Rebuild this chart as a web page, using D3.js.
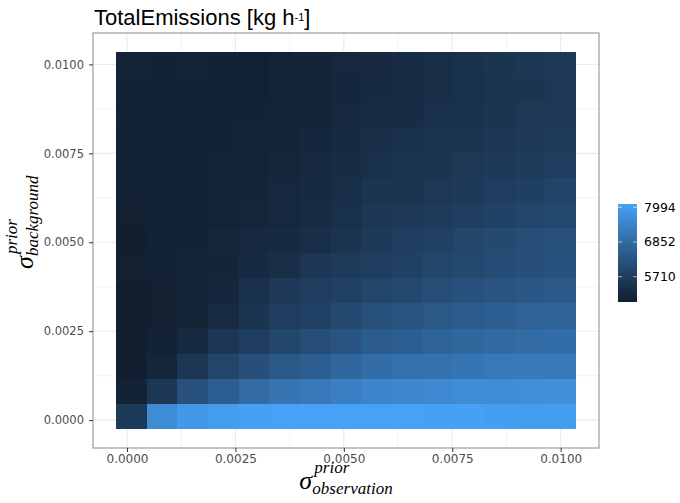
<!DOCTYPE html>
<html>
<head>
<meta charset="utf-8">
<script src="https://cdn.jsdelivr.net/npm/d3@7"></script>
<style>
  body { margin: 0; background: #fff; }
  svg { display: block; }
</style>
</head>
<body>
<div id="chart"></div>
<script>
// grid of prior uncertainties (15 x 15)
var sigmaObs = [0.0001, 0.000807, 0.001514, 0.002221, 0.002929, 0.003636, 0.004343, 0.00505,
                0.005757, 0.006464, 0.007171, 0.007879, 0.008586, 0.009293, 0.01];
var sigmaBg = [0.0001, 0.000807, 0.001514, 0.002221, 0.002929, 0.003636, 0.004343, 0.00505,
               0.005757, 0.006464, 0.007171, 0.007879, 0.008586, 0.009293, 0.01];

// total emissions [kg/h], one row per sigmaBg value (bottom to top), one column per sigmaObs value
var emissions = [
  [5620, 7620, 7910, 8000, 8070, 8100, 8100, 8100, 8100, 8100, 8070, 8070, 8040, 8000, 8000],
  [4980, 5520, 6230, 6550, 6880, 7070, 7200, 7330, 7460, 7520, 7550, 7620, 7650, 7680, 7710],
  [4880, 5070, 5520, 5910, 6170, 6390, 6550, 6750, 6910, 6970, 7040, 7100, 7170, 7200, 7230],
  [4880, 4980, 5200, 5520, 5720, 5940, 6140, 6300, 6490, 6550, 6680, 6750, 6810, 6880, 6910],
  [4880, 4910, 5040, 5230, 5490, 5720, 5850, 6010, 6200, 6300, 6390, 6490, 6550, 6650, 6680],
  [4880, 4910, 5010, 5110, 5360, 5590, 5720, 5810, 5940, 6010, 6140, 6230, 6300, 6360, 6430],
  [4910, 4940, 5010, 5040, 5200, 5330, 5520, 5650, 5720, 5810, 5940, 6010, 6100, 6170, 6230],
  [4880, 4940, 4980, 5070, 5170, 5200, 5330, 5490, 5620, 5750, 5810, 5940, 6040, 6140, 6200],
  [4910, 4940, 4980, 5010, 5070, 5140, 5230, 5360, 5520, 5590, 5650, 5750, 5850, 5940, 6010],
  [4940, 4940, 4940, 5010, 5040, 5140, 5200, 5300, 5430, 5490, 5560, 5620, 5720, 5780, 5880],
  [4940, 4940, 4940, 5010, 5010, 5070, 5170, 5230, 5360, 5430, 5490, 5560, 5620, 5690, 5750],
  [4940, 4940, 4940, 4980, 5010, 5040, 5110, 5200, 5300, 5360, 5430, 5490, 5520, 5590, 5650],
  [4980, 4940, 4940, 4980, 4980, 5010, 5040, 5140, 5230, 5270, 5360, 5400, 5490, 5560, 5590],
  [4980, 4980, 4980, 4940, 4940, 5010, 5040, 5110, 5200, 5230, 5300, 5360, 5430, 5490, 5560],
  [5010, 4980, 5010, 4980, 4940, 5010, 5040, 5140, 5170, 5270, 5330, 5400, 5460, 5520, 5590]
];

var axisTicks = [0, 0.0025, 0.005, 0.0075, 0.01];
var minorTicks = [0.00125, 0.00375, 0.00625, 0.00875];
var legendBreaks = [5710, 6852, 7994];
var fillRange = [4880, 8100];

var width = 680, height = 503,
    panel = {left: 93, right: 599, top: 33, bottom: 448},
    tickFmt = d3.format(".4f");

var cells = [];
emissions.forEach(function(row, j) {
  row.forEach(function(v, i) {
    cells.push({x: sigmaObs[i], y: sigmaBg[j], value: v});
  });
});

// ggplot style: tile extent plus 5% on each side
var tileW = sigmaObs[1] - sigmaObs[0],
    tileH = sigmaBg[1] - sigmaBg[0];
function expand(lo, hi) {
  var d = (hi - lo) * 0.05;
  return [lo - d, hi + d];
}

var x = d3.scaleLinear()
    .domain(expand(d3.min(sigmaObs) - tileW / 2, d3.max(sigmaObs) + tileW / 2))
    .range([panel.left, panel.right]);
var y = d3.scaleLinear()
    .domain(expand(d3.min(sigmaBg) - tileH / 2, d3.max(sigmaBg) + tileH / 2))
    .range([panel.bottom, panel.top]);
var color = d3.scaleLinear()
    .domain(fillRange)
    .range(["#111f30", "#47a1f7"])
    .interpolate(d3.interpolateLab);

var svg = d3.select("#chart").append("svg")
    .attr("width", width)
    .attr("height", height)
    .style("font-family", "'DejaVu Sans', sans-serif");

// grid lines
var grid = svg.append("g");
grid.selectAll(".vminor").data(minorTicks).enter().append("line")
    .attr("x1", function(d) { return x(d); }).attr("x2", function(d) { return x(d); })
    .attr("y1", panel.top).attr("y2", panel.bottom)
    .attr("stroke", "#ebebeb").attr("stroke-width", 0.6);
grid.selectAll(".hminor").data(minorTicks).enter().append("line")
    .attr("y1", function(d) { return y(d); }).attr("y2", function(d) { return y(d); })
    .attr("x1", panel.left).attr("x2", panel.right)
    .attr("stroke", "#ebebeb").attr("stroke-width", 0.6);
grid.selectAll(".vmajor").data(axisTicks).enter().append("line")
    .attr("x1", function(d) { return x(d); }).attr("x2", function(d) { return x(d); })
    .attr("y1", panel.top).attr("y2", panel.bottom)
    .attr("stroke", "#ebebeb").attr("stroke-width", 1.1);
grid.selectAll(".hmajor").data(axisTicks).enter().append("line")
    .attr("y1", function(d) { return y(d); }).attr("y2", function(d) { return y(d); })
    .attr("x1", panel.left).attr("x2", panel.right)
    .attr("stroke", "#ebebeb").attr("stroke-width", 1.1);

// tiles
svg.append("g")
    .attr("shape-rendering", "crispEdges")
  .selectAll("rect")
    .data(cells)
  .enter().append("rect")
    .attr("x", function(d) { return x(d.x - tileW / 2); })
    .attr("y", function(d) { return y(d.y + tileH / 2); })
    .attr("width", function(d) { return x(d.x + tileW / 2) - x(d.x - tileW / 2); })
    .attr("height", function(d) { return y(d.y - tileH / 2) - y(d.y + tileH / 2); })
    .attr("fill", function(d) { return color(d.value); });

// panel border
svg.append("rect")
    .attr("x", panel.left).attr("y", panel.top)
    .attr("width", panel.right - panel.left).attr("height", panel.bottom - panel.top)
    .attr("fill", "none").attr("stroke", "#8a8a8a").attr("stroke-width", 1);

// axes
var xAxis = svg.append("g")
    .attr("transform", "translate(0," + panel.bottom + ")")
    .call(d3.axisBottom(x).tickValues(axisTicks).tickFormat(tickFmt).tickSize(4).tickPadding(2));
var yAxis = svg.append("g")
    .attr("transform", "translate(" + panel.left + ",0)")
    .call(d3.axisLeft(y).tickValues(axisTicks).tickFormat(tickFmt).tickSize(4).tickPadding(5));
[xAxis, yAxis].forEach(function(a) {
  a.select(".domain").remove();
  a.selectAll(".tick line").attr("stroke", "#333333");
  a.selectAll(".tick text")
    .attr("fill", "#4d4d4d")
    .style("font-family", "'DejaVu Sans', sans-serif");
});
xAxis.selectAll(".tick text").style("font-size", "12px");
yAxis.selectAll(".tick text").style("font-size", "11.5px");

// title
var title = svg.append("text")
    .attr("x", 94).attr("y", 25)
    .style("font-family", "'Liberation Sans', Arial, sans-serif")
    .style("font-size", "22px")
    .attr("fill", "#000");
title.append("tspan").text("TotalEmissions [kg h");
title.append("tspan").text("-1").style("font-size", "11px").attr("dy", -4);
title.append("tspan").text("]").attr("dy", 4);

// sigma axis titles
function sigmaLabel(g, sub) {
  var f = "'Liberation Serif', 'DejaVu Serif', serif";
  g.append("text").text("\u03c3")
    .attr("x", 0).attr("y", 0)
    .style("font-family", f).style("font-style", "italic").style("font-size", "26px");
  g.append("text").text("prior")
    .attr("x", 15).attr("y", -16)
    .style("font-family", f).style("font-style", "italic").style("font-size", "17px");
  g.append("text").text(sub)
    .attr("x", 13).attr("y", 5)
    .style("font-family", f).style("font-style", "italic").style("font-size", "17px");
}

var xt = svg.append("g");
sigmaLabel(xt, "observation");
var xb = xt.node().getBBox();
xt.attr("transform", "translate(" + ((panel.left + panel.right) / 2 - xb.width / 2 - xb.x) + ",489)");

var yt = svg.append("g");
sigmaLabel(yt, "background");
var yb = yt.node().getBBox();
yt.attr("transform", "translate(33," + (222 + yb.width / 2 + yb.x) + ") rotate(-90)");

// colour bar legend
var bar = {left: 618, right: 637, top: 204, bottom: 302};
var ly = d3.scaleLinear().domain(fillRange).range([bar.bottom, bar.top]);
var grad = svg.append("defs").append("linearGradient")
    .attr("id", "fillGrad")
    .attr("x1", 0).attr("y1", 1).attr("x2", 0).attr("y2", 0);
d3.range(0, 1.0001, 0.05).forEach(function(t) {
  grad.append("stop")
    .attr("offset", t)
    .attr("stop-color", color(fillRange[0] + t * (fillRange[1] - fillRange[0])));
});
svg.append("rect")
    .attr("x", bar.left).attr("y", bar.top)
    .attr("width", bar.right - bar.left).attr("height", bar.bottom - bar.top)
    .attr("fill", "url(#fillGrad)");
var lt = svg.append("g").selectAll("g").data(legendBreaks).enter().append("g");
lt.append("line")
    .attr("x1", bar.left).attr("x2", bar.left + 4)
    .attr("y1", function(d) { return ly(d); }).attr("y2", function(d) { return ly(d); })
    .attr("stroke", "#fff").attr("stroke-opacity", 0.6);
lt.append("line")
    .attr("x1", bar.right - 4).attr("x2", bar.right)
    .attr("y1", function(d) { return ly(d); }).attr("y2", function(d) { return ly(d); })
    .attr("stroke", "#fff").attr("stroke-opacity", 0.6);
lt.append("text")
    .attr("x", 644)
    .attr("y", function(d) { return ly(d); })
    .attr("dy", "0.36em")
    .style("font-size", "12.5px")
    .attr("fill", "#000")
    .text(function(d) { return d; });
</script>
</body>
</html>
